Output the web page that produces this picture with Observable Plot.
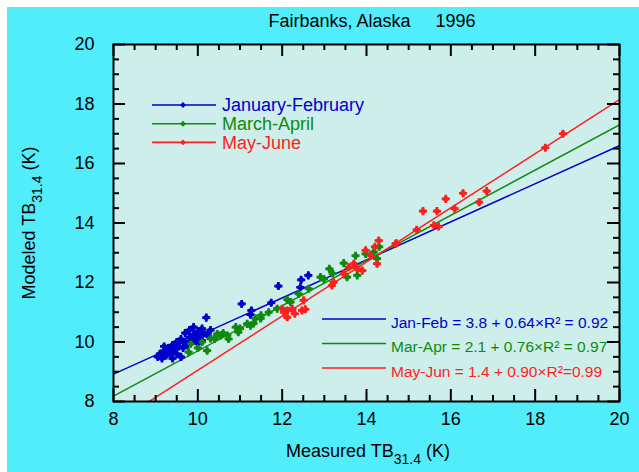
<!DOCTYPE html>
<html><head><meta charset="utf-8">
<script src="https://cdn.jsdelivr.net/npm/d3@7"></script>
<script src="https://cdn.jsdelivr.net/npm/@observablehq/plot@0.6"></script>
<style>
html,body{margin:0;padding:0;background:#fff;width:639px;height:472px;overflow:hidden;}
#chart{position:absolute;left:7px;top:7px;}
</style></head><body><div id="chart"></div>
<script>
// ---- data ----
const titleText = "Fairbanks, Alaska\u00a0\u00a0\u00a0\u00a0\u00a01996";
const xTitle = ["Measured TB", "31.4", " (K)"];
const yTitle = ["Modeled TB", "31.4", " (K)"];
const seriesNames = ["January-February", "March-April", "May-June"];
const fitLabels = ["Jan-Feb = 3.8 + 0.64×R² = 0.92", "Mar-Apr = 2.1 + 0.76×R² = 0.97", "May-Jun = 1.4 + 0.90×R²=0.99"];
const seriesColors = ["#0000cc", "#0f8a0f", "#ff1f1f"];

const janFebX = [9.05,9.1,9.15,9.2,9.25,9.3,9.35,9.4,9.45,9.5,9.5,9.55,9.6,9.65,9.7,9.7,9.75,9.8,9.8,9.85,9.9,9.9,9.95,10.0,10.0,10.05,10.1,10.1,10.15,10.25,10.3,9.6,9.4,9.2,10.2,11.04,11.27,11.25,11.74,11.91,12.43,12.45,12.62];
const janFebY = [9.5,9.6,9.45,9.7,9.55,9.8,9.65,9.9,9.75,10.0,9.6,9.85,10.1,9.8,10.0,10.3,9.9,10.15,10.4,10.0,10.25,10.5,10.1,10.35,9.95,10.2,10.45,10.05,10.3,10.2,10.4,9.5,9.45,9.85,10.82,11.28,11.06,10.92,11.32,11.88,11.84,12.09,12.24];

const marAprX = [9.78,9.83,10.0,10.22,10.3,10.46,10.54,10.7,10.73,10.96,11.0,11.17,11.25,11.32,11.37,11.49,11.5,11.68,11.88,12.12,12.2,12.39,12.63,12.91,12.99,13.12,13.2,13.46,13.54,13.74,13.78,13.98,14.17,14.25,14.3,10.1,10.4,10.6,10.9];
const marAprY = [9.66,9.94,9.8,9.71,10.12,10.27,10.22,10.22,10.1,10.33,10.45,10.61,10.55,10.62,10.79,10.79,10.9,11.0,11.12,11.42,11.34,11.62,11.79,12.18,12.12,12.46,12.3,12.65,12.18,12.9,12.24,12.96,13.02,12.8,13.2,10.0,10.1,10.3,10.5];

const mayJunX = [12.0,12.04,12.12,12.12,12.24,12.3,12.47,12.51,12.55,13.18,13.22,13.46,13.58,13.7,13.78,13.9,13.98,14.1,14.25,14.29,14.2,14.69,14.71,15.19,15.34,15.6,15.67,15.71,15.88,16.09,16.29,16.67,16.85,18.24,18.66];
const mayJunY = [11.12,11.0,10.83,11.06,11.12,10.95,11.06,11.4,11.1,11.9,12.01,12.29,12.51,12.63,12.46,12.4,13.08,12.91,12.63,13.41,13.2,13.3,13.32,13.77,14.4,13.92,14.4,13.88,14.81,14.48,15.0,14.7,15.07,16.53,17.0];

// regression lines as drawn in the figure
const fitIntercepts = [3.8, 2.1, -0.05];
const fitSlopes = [0.64, 0.76, 0.91];
const fitRangeX = [8, 20];

const majorTicks = [8, 10, 12, 14, 16, 18, 20];
const minorTicks = [8.5,9,9.5,10.5,11,11.5,12.5,13,13.5,14.5,15,15.5,16.5,17,17.5,18.5,19,19.5];

// ---- build ----
const FONT = "'Liberation Sans', Arial, Helvetica, sans-serif";
const W = 632, H = 465, mL = 106, mR = 20, mT = 37, mB = 71;
const fw = W - mL - mR, fh = H - mT - mB;

const seriesX = [janFebX, marAprX, mayJunX];
const seriesY = [janFebY, marAprY, mayJunY];
const points = seriesNames.flatMap((s, i) => seriesX[i].map((x, j) => ({series: s, x, y: seriesY[i][j]})));
const fits = seriesNames.flatMap((s, i) => fitRangeX.map(x => ({series: s, x, y: fitIntercepts[i] + fitSlopes[i] * x})));

const plot = Plot.plot({
  width: W, height: H,
  marginLeft: mL, marginRight: mR, marginTop: mT, marginBottom: mB,
  style: {background: "#52edfb", fontFamily: FONT, fontSize: "18px", color: "#000", overflow: "visible"},
  x: {domain: [8, 20], ticks: majorTicks, tickSize: 0, tickPadding: 11, label: null},
  y: {domain: [8, 20], ticks: majorTicks, tickSize: 0, tickPadding: 19, label: null},
  color: {domain: seriesNames, range: seriesColors},
  marks: [
    Plot.frame({fill: "#cdeeea"}),
    Plot.line(fits, {x: "x", y: "y", z: "series", stroke: "series", strokeWidth: 1.5, clip: true}),
    Plot.dot(points, {x: "x", y: "y", symbol: "cross", r: 3.4, fill: "series", stroke: null}),
    Plot.dot(points, {x: "x", y: "y", symbol: "diamond2", r: 3.5, fill: "series", stroke: null}),
    Plot.tickX(minorTicks, {x: d => d, insetTop: fh - 6, stroke: "#000", strokeWidth: 2}),
    Plot.tickX(minorTicks, {x: d => d, insetBottom: fh - 6, stroke: "#000", strokeWidth: 2}),
    Plot.tickX(majorTicks, {x: d => d, insetTop: fh - 12, stroke: "#000", strokeWidth: 2}),
    Plot.tickX(majorTicks, {x: d => d, insetBottom: fh - 12, stroke: "#000", strokeWidth: 2}),
    Plot.tickY(minorTicks, {y: d => d, insetRight: fw - 6, stroke: "#000", strokeWidth: 2}),
    Plot.tickY(minorTicks, {y: d => d, insetLeft: fw - 6, stroke: "#000", strokeWidth: 2}),
    Plot.tickY(majorTicks, {y: d => d, insetRight: fw - 12, stroke: "#000", strokeWidth: 2}),
    Plot.tickY(majorTicks, {y: d => d, insetLeft: fw - 12, stroke: "#000", strokeWidth: 2}),
    Plot.frame({stroke: "#000", strokeWidth: 2})
  ]
});
document.getElementById("chart").appendChild(plot);

const svg = d3.select(plot);
const g = svg.append("g").attr("font-family", FONT).attr("text-anchor", "start");

// title
g.append("text").attr("x", 365).attr("y", 20).attr("text-anchor", "middle")
  .attr("font-size", 18).attr("fill", "#000").text(titleText);

// x title
const xt = g.append("text").attr("x", 361).attr("y", 450).attr("text-anchor", "middle").attr("font-size", 18).attr("fill", "#000");
xt.append("tspan").text(xTitle[0]);
xt.append("tspan").attr("dy", 7).attr("font-size", 14).text(xTitle[1]);
xt.append("tspan").attr("dy", -7).text(xTitle[2]);

// y title
const yt = g.append("text").attr("transform", "translate(28,216) rotate(-90)").attr("text-anchor", "middle").attr("font-size", 18).attr("fill", "#000");
yt.append("tspan").text(yTitle[0]);
yt.append("tspan").attr("dy", 7).attr("font-size", 14).text(yTitle[1]);
yt.append("tspan").attr("dy", -7).text(yTitle[2]);

// series legend
seriesNames.forEach((n, i) => {
  const y = 98 + i * 18.7;
  g.append("line").attr("x1", 145).attr("x2", 209).attr("y1", y).attr("y2", y)
    .attr("stroke", seriesColors[i]).attr("stroke-width", 1.6);
  g.append("path").attr("d", d3.symbol(d3.symbolDiamond2, 22)()).attr("transform", `translate(176,${y})`).attr("fill", seriesColors[i]);
  g.append("text").attr("x", 215).attr("y", y).attr("dy", "0.36em").attr("font-size", 18)
    .attr("text-anchor", "start").attr("fill", seriesColors[i]).text(n);
});

// fit legend
fitLabels.forEach((t, i) => {
  const y = 312 + i * 24.5;
  g.append("line").attr("x1", 315).attr("x2", 379).attr("y1", y).attr("y2", y)
    .attr("stroke", seriesColors[i]).attr("stroke-width", 1.6);
  g.append("text").attr("x", 384).attr("y", y + 3).attr("dy", "0.36em").attr("font-size", 15.5)
    .attr("text-anchor", "start").attr("fill", seriesColors[i]).text(t);
});
</script></body></html>
